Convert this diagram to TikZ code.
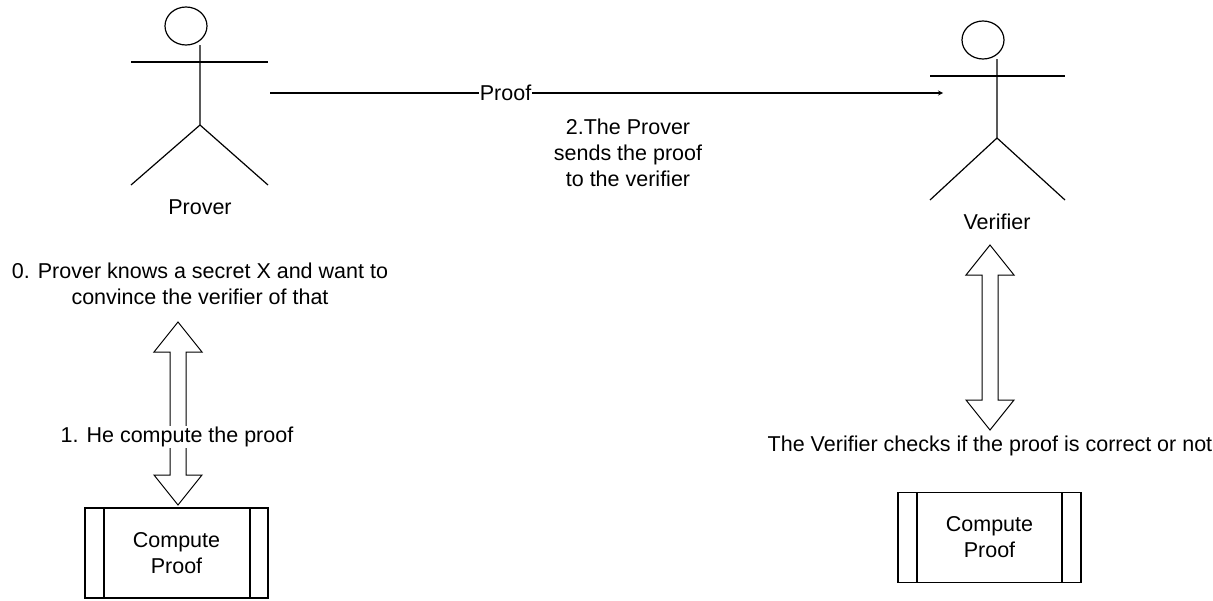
\documentclass[tikz,border=0pt]{standalone}
\usepackage{fontspec}
\setmainfont{Liberation Sans}
\begin{document}
\begin{tikzpicture}[x=1pt,y=-1pt,line width=1.2pt,
  lbl/.style={font=\fontsize{21.5}{26}\selectfont,align=center,inner sep=1pt},
  proc/.style={draw,minimum width=183pt,minimum height=90pt,font=\fontsize{21.5}{26}\selectfont,align=center}]
\useasboundingbox (0,0) rectangle (1213,600);
% Prover
\draw (186,26) ellipse (21 and 19);
\draw (131,62) -- (268,62);
\draw (200,45) -- (200,125) -- (131,185);
\draw (200,125) -- (268,185);
\node[lbl] (pl) at (200,207) {Prover};
% Verifier
\draw (983,40) ellipse (21 and 19);
\draw (930,76) -- (1065,76);
\draw (997,59) -- (997,138) -- (930,200);
\draw (997,138) -- (1065,200);
\node[lbl] (vl) at (997,222) {Verifier};
% proof arrow
\coordinate (ps) at (270,93);
\coordinate (pe) at (943,93);
\draw[->,>=stealth] (ps) -- node[pos=0.35,fill=white,lbl]{Proof} (pe);
\node[lbl] (t2) at (628,153) {2.The Prover\\sends the proof\\to the verifier};
\node[lbl] (t0) at (200,284) {0. Prover knows a secret X and want to\\convince the verifier of that};
% hollow double arrows
\newcommand{\dblarrow}[3]{%
\draw[line width=1pt,fill=white] (#1,#2) -- (#1+24,#2+30) -- (#1+8,#2+30) -- (#1+8,#3-30) -- (#1+24,#3-30) -- (#1,#3) -- (#1-24,#3-30) -- (#1-8,#3-30) -- (#1-8,#2+30) -- (#1-24,#2+30) -- cycle;}
\dblarrow{178}{322}{505}
\dblarrow{990}{245}{430}
\node[lbl,fill=white] (t1) at (177,437) {1. He compute the proof};
\node[lbl] (t3) at (990,446) {The Verifier checks if the proof is correct or not};
% process boxes
\node[proc] (b1) at (176.5,553) {Compute\\Proof};
\draw (104,508) -- (104,598) (250,508) -- (250,598);
\node[proc] (b2) at (989.5,537.5) {Compute\\Proof};
\draw (917,492.5) -- (917,582.5) (1062,492.5) -- (1062,582.5);
\end{tikzpicture}
\end{document}
